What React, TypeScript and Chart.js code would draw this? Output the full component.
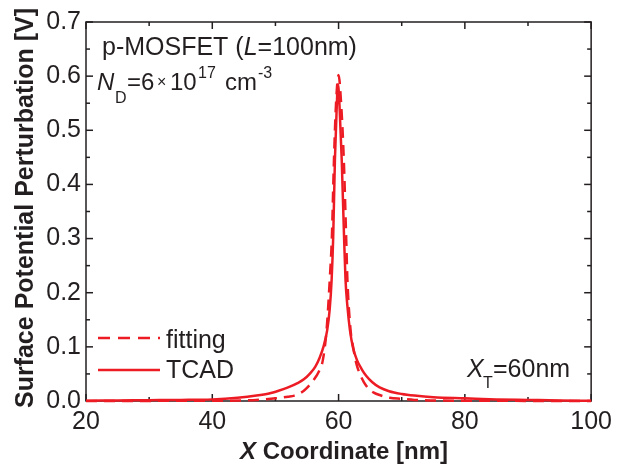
import React, { useEffect, useRef } from 'react';
import { Chart, registerables } from 'chart.js';

Chart.register(...registerables);

// ---- Data ----
const xTcad = [20, 25, 30, 35, 40, 44, 47, 49, 50.5, 52, 53.5, 54.5, 55.5, 56.3, 57, 57.6, 58.2, 58.6, 58.9, 59.15, 59.42, 59.7, 59.9, 60.15, 60.5, 60.85, 61.1, 61.4, 61.8, 62.3, 62.9, 63.7, 64.4, 65.3, 66.5, 68, 70, 72, 75, 80, 85, 90, 95, 100];
const yTcad = [0.0005, 0.001, 0.0015, 0.002, 0.003, 0.006, 0.01, 0.014, 0.019, 0.025, 0.033, 0.04, 0.051, 0.063, 0.08, 0.1, 0.131, 0.17, 0.224, 0.303, 0.445, 0.54, 0.585, 0.545, 0.445, 0.31, 0.224, 0.175, 0.131, 0.098, 0.076, 0.058, 0.046, 0.035, 0.025, 0.018, 0.013, 0.01, 0.007, 0.005, 0.003, 0.002, 0.001, 0.0005];

const xFit = [20, 30, 40, 45, 48, 50, 52, 53, 54, 54.5, 55.3, 56, 56.9, 57.5, 58.1, 58.6, 58.94, 59.27, 59.6, 60, 60.4, 60.83, 61.2, 61.4, 61.9, 62.3, 62.8, 63.3, 64, 64.9, 65.5, 66.5, 68.1, 70, 72, 75, 80, 90, 100];
const yFit = [0, 0.0002, 0.0005, 0.001, 0.003, 0.005, 0.008, 0.01, 0.015, 0.019, 0.028, 0.038, 0.055, 0.075, 0.131, 0.2235, 0.303, 0.445, 0.55, 0.602, 0.55, 0.445, 0.303, 0.2235, 0.131, 0.1, 0.07, 0.052, 0.035, 0.021, 0.016, 0.011, 0.006, 0.004, 0.002, 0.001, 0.0005, 0.0002, 0];

const xMajorTicks = [20, 40, 60, 80, 100];
const xMinorTicks = [30, 50, 70, 90];
const yMajorTicks = [0, 0.1, 0.2, 0.3, 0.4, 0.5, 0.6, 0.7];
const yMinorTicks = [0.05, 0.15, 0.25, 0.35, 0.45, 0.55, 0.65];

const RED = 'rgb(237,28,36)';
const INK = '#231F20';
const FONT = '"Liberation Sans", Arial, Helvetica, sans-serif';

type Run = { t: string; x: number; y: number; size: number; style?: string };

function drawRuns(ctx: CanvasRenderingContext2D, runs: Run[]) {
  for (const r of runs) {
    ctx.font = `${r.style ?? ''} ${r.size}px ${FONT}`;
    ctx.fillText(r.t, r.x, r.y);
  }
}

const decor = {
  id: 'decor',
  beforeDatasetsDraw(chart: any) {
    const { ctx, chartArea: a, scales } = chart;
    const xs = scales.x;
    const ys = scales.y;
    ctx.save();
    ctx.strokeStyle = INK;
    ctx.lineWidth = 1.5;
    ctx.strokeRect(a.left, a.top, a.right - a.left, a.bottom - a.top);
    const seg = (x1: number, y1: number, x2: number, y2: number) => {
      ctx.beginPath();
      ctx.moveTo(x1, y1);
      ctx.lineTo(x2, y2);
      ctx.stroke();
    };
    const xt = (v: number, L: number) => {
      const p = xs.getPixelForValue(v);
      seg(p, a.bottom, p, a.bottom - L);
      seg(p, a.top, p, a.top + L);
    };
    const yt = (v: number, L: number) => {
      const p = ys.getPixelForValue(v);
      seg(a.left, p, a.left + L, p);
      seg(a.right, p, a.right - L, p);
    };
    xMajorTicks.forEach((v) => xt(v, 7));
    xMinorTicks.forEach((v) => xt(v, 4));
    yMajorTicks.forEach((v) => yt(v, 7));
    yMinorTicks.forEach((v) => yt(v, 4));
    ctx.restore();
  },
  afterDraw(chart: any) {
    const { ctx } = chart;
    ctx.save();
    ctx.fillStyle = INK;
    ctx.textBaseline = 'alphabetic';
    ctx.textAlign = 'left';

    // annotation 1
    ctx.font = `25px ${FONT}`;
    const w1 = ctx.measureText('p-MOSFET (').width;
    ctx.font = `italic 25px ${FONT}`;
    const w2 = ctx.measureText('L').width;
    drawRuns(ctx, [
      { t: 'p-MOSFET (', x: 102, y: 55, size: 25 },
      { t: 'L', x: 102 + w1, y: 55, size: 25, style: 'italic' },
      { t: '=100nm)', x: 102 + w1 + w2, y: 55, size: 25 },
    ]);

    // annotation 2: N_D = 6 x 10^17 cm^-3
    drawRuns(ctx, [
      { t: 'N', x: 97, y: 90, size: 24, style: 'italic' },
      { t: 'D', x: 115, y: 103, size: 16 },
      { t: '=6', x: 127, y: 90, size: 24 },
      { t: '×', x: 157, y: 87, size: 16 },
      { t: '10', x: 170, y: 90, size: 24 },
      { t: '17', x: 198, y: 78, size: 16 },
      { t: 'cm', x: 225, y: 90, size: 24 },
      { t: '-3', x: 258, y: 78, size: 16 },
    ]);

    // annotation 3: X_T = 60nm
    drawRuns(ctx, [
      { t: 'X', x: 467, y: 377, size: 25, style: 'italic' },
      { t: 'T', x: 483, y: 388, size: 16 },
      { t: '=60nm', x: 493, y: 377, size: 25 },
    ]);

    // legend
    ctx.strokeStyle = RED;
    ctx.lineWidth = 2.5;
    ctx.setLineDash([12, 8]);
    ctx.beginPath();
    ctx.moveTo(98, 338);
    ctx.lineTo(160, 338);
    ctx.stroke();
    ctx.setLineDash([]);
    ctx.beginPath();
    ctx.moveTo(98, 370);
    ctx.lineTo(160, 370);
    ctx.stroke();
    drawRuns(ctx, [
      { t: 'fitting', x: 166, y: 348, size: 25 },
      { t: 'TCAD', x: 166, y: 378, size: 25 },
    ]);

    // x axis title
    ctx.font = `italic bold 24px ${FONT}`;
    const wx = ctx.measureText('X').width;
    ctx.font = `bold 24px ${FONT}`;
    const wr = ctx.measureText(' Coordinate [nm]').width;
    const cx = 344;
    const sx = cx - (wx + wr) / 2;
    drawRuns(ctx, [
      { t: 'X', x: sx, y: 459, size: 24, style: 'italic bold' },
      { t: ' Coordinate [nm]', x: sx + wx, y: 459, size: 24, style: 'bold' },
    ]);

    // y axis title
    ctx.translate(33, 208);
    ctx.rotate(-Math.PI / 2);
    ctx.textAlign = 'center';
    ctx.font = `bold 25px ${FONT}`;
    ctx.fillText('Surface Potential Perturbation [V]', 0, 0);
    ctx.restore();
  },
};

export default function App() {
  const ref = useRef<HTMLCanvasElement | null>(null);
  useEffect(() => {
    if (!ref.current) return;
    const chart = new Chart(ref.current, {
      type: 'scatter',
      data: {
        datasets: [
          {
            label: 'fitting',
            data: xFit.map((x, i) => ({ x, y: yFit[i] })),
            showLine: true,
            borderColor: RED,
            backgroundColor: RED,
            borderWidth: 2.5,
            borderDash: [11, 7],
            pointRadius: 0,
            cubicInterpolationMode: 'monotone',
            clip: false,
          } as any,
          {
            label: 'TCAD',
            data: xTcad.map((x, i) => ({ x, y: yTcad[i] })),
            showLine: true,
            borderColor: RED,
            backgroundColor: RED,
            borderWidth: 2.5,
            pointRadius: 0,
            cubicInterpolationMode: 'monotone',
            clip: false,
          } as any,
        ],
      },
      options: {
        animation: false,
        responsive: false,
        devicePixelRatio: 1,
        layout: { padding: { top: 22, right: 21, left: 0, bottom: 0 } },
        plugins: { legend: { display: false }, tooltip: { enabled: false } },
        scales: {
          x: {
            type: 'linear',
            min: 20,
            max: 100,
            grid: { display: false, drawTicks: false },
            border: { display: false },
            ticks: {
              stepSize: 20,
              padding: 6,
              maxRotation: 0,
              color: INK,
              font: { family: FONT, size: 25 },
            },
            afterFit: (s: any) => {
              s.height = 65;
            },
          },
          y: {
            type: 'linear',
            min: 0,
            max: 0.7,
            grid: { display: false, drawTicks: false },
            border: { display: false },
            ticks: {
              stepSize: 0.1,
              padding: 5,
              color: INK,
              font: { family: FONT, size: 25 },
              callback: (v: any) => Number(v).toFixed(1),
            },
            afterFit: (s: any) => {
              s.width = 86;
            },
          },
        },
      },
      plugins: [decor],
    });
    return () => chart.destroy();
  }, []);
  return (
    <div style={{ position: 'absolute', left: 0, top: 0, width: 618, height: 466, background: '#fff' }}>
      <canvas ref={ref} width={618} height={466} style={{ display: 'block' }} />
    </div>
  );
}
